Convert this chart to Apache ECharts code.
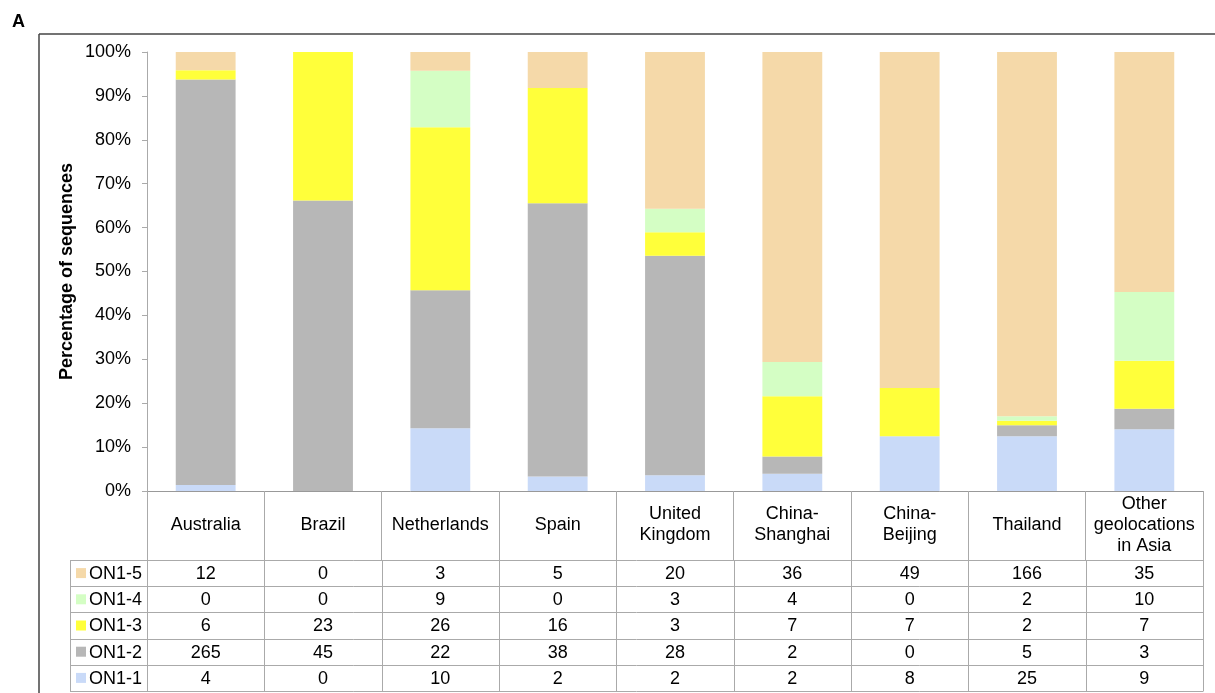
<!DOCTYPE html>
<html>
<head>
<meta charset="utf-8">
<script src="https://cdn.jsdelivr.net/npm/echarts@6/dist/echarts.min.js"></script>
<style>html,body{margin:0;padding:0;background:#fff}#c{width:1215px;height:693px}</style>
</head>
<body>
<div id="c"></div>
<script>
var categories = ['Australia', 'Brazil', 'Netherlands', 'Spain', 'United\nKingdom', 'China-\nShanghai', 'China-\nBeijing', 'Thailand', 'Other\ngeolocations\nin Asia'];
var on1_1 = [4, 0, 10, 2, 2, 2, 8, 25, 9];
var on1_2 = [265, 45, 22, 38, 28, 2, 0, 5, 3];
var on1_3 = [6, 23, 26, 16, 3, 7, 7, 2, 7];
var on1_4 = [0, 0, 9, 0, 3, 4, 0, 2, 10];
var on1_5 = [12, 0, 3, 5, 20, 36, 49, 166, 35];
var seriesNames = ['ON1-1', 'ON1-2', 'ON1-3', 'ON1-4', 'ON1-5'];
var seriesCounts = [on1_1, on1_2, on1_3, on1_4, on1_5];
var colors = ['#C9DAF8', '#B7B7B7', '#FFFF3A', '#D4FEC4', '#F5D9A9'];
var yTicks = [0, 10, 20, 30, 40, 50, 60, 70, 80, 90, 100];

var FONT = 'Liberation Sans, Arial, sans-serif';
var totals = categories.map(function (c, i) {
  var s = 0; seriesCounts.forEach(function (a) { s += a[i]; }); return s;
});
var series = seriesNames.map(function (n, k) {
  return {
    name: n, type: 'bar', stack: 'all', barWidth: '51%',
    itemStyle: { color: colors[k] },
    data: seriesCounts[k].map(function (v, i) { return v / totals[i] * 100; })
  };
});

var chart = echarts.init(document.getElementById('c'));
var gridLeft = 147, gridRight = 12, gridTop = 52, gridBottom = 202;
chart.setOption({
  animation: false,
  grid: { left: gridLeft, right: gridRight, top: gridTop, bottom: gridBottom },
  xAxis: {
    type: 'category', data: categories,
    axisLine: { show: true, lineStyle: { color: '#999', width: 1 } },
    axisTick: { show: true, length: 69, lineStyle: { color: '#aaa' } },
    axisLabel: { interval: 0, margin: 34, verticalAlign: 'middle', fontFamily: FONT, fontSize: 18, color: '#000', lineHeight: 21 }
  },
  yAxis: {
    type: 'value', min: 0, max: 100, interval: 10,
    axisLine: { show: true, lineStyle: { color: '#aaa' } },
    axisTick: { show: true, length: 5, lineStyle: { color: '#aaa' } },
    splitLine: { show: false },
    axisLabel: { formatter: function (v) { return yTicks.indexOf(v) >= 0 ? v + '%' : ''; }, fontFamily: FONT, fontSize: 18, color: '#000', margin: 16 },
    name: 'Percentage of sequences', nameLocation: 'middle', nameGap: 71, nameMoveOverlap: false,
    nameTextStyle: { fontFamily: FONT, fontSize: 18, fontWeight: 'bold', color: '#000' }
  },
  series: series
});

// table + frame
var g = [];
g.push({ type: 'text', left: 12, top: 13, style: { text: 'A', font: 'bold 18px ' + FONT, fill: '#000' } });
g.push({ type: 'line', shape: { x1: 39, y1: 34, x2: 1215, y2: 34 }, style: { stroke: '#444', lineWidth: 1.5 } });
g.push({ type: 'line', shape: { x1: 39, y1: 34, x2: 39, y2: 693 }, style: { stroke: '#444', lineWidth: 1.5 } });
var x0 = chart.convertToPixel({ xAxisIndex: 0 }, 0);
var x1 = chart.convertToPixel({ xAxisIndex: 0 }, 1);
var band = x1 - x0;
var left = x0 - band / 2;
var right = left + band * categories.length;
var headerBottom = 560, rowH = 26.2, labelLeft = 70;
var lineC = '#aaa';
var nRows = seriesNames.length;
for (var r = 0; r <= nRows; r++) {
  var y = Math.round(headerBottom + r * rowH) + 0.5;
  g.push({ type: 'line', shape: { x1: labelLeft, y1: y, x2: right, y2: y }, style: { stroke: lineC, lineWidth: 1 } });
}
var bottomY = Math.round(headerBottom + nRows * rowH) + 0.5;
g.push({ type: 'line', shape: { x1: labelLeft + 0.5, y1: headerBottom, x2: labelLeft + 0.5, y2: bottomY }, style: { stroke: lineC, lineWidth: 1 } });
for (var i = 0; i <= categories.length; i++) {
  var xx = Math.round(left + i * band) + 0.5;
  g.push({ type: 'line', shape: { x1: xx, y1: headerBottom, x2: xx, y2: bottomY }, style: { stroke: lineC, lineWidth: 1 } });
}
for (var r2 = 0; r2 < nRows; r2++) {
  var k = nRows - 1 - r2;
  var cy = headerBottom + (r2 + 0.5) * rowH;
  g.push({ type: 'rect', shape: { x: 76, y: cy - 5, width: 10, height: 10 }, style: { fill: colors[k] } });
  g.push({ type: 'text', x: 89, y: cy + 1, style: { text: seriesNames[k], font: '18px ' + FONT, fill: '#000', textVerticalAlign: 'middle', verticalAlign: 'middle' } });
  for (var c = 0; c < categories.length; c++) {
    g.push({ type: 'text', x: left + (c + 0.5) * band, y: cy + 1, style: { text: String(seriesCounts[k][c]), font: '18px ' + FONT, fill: '#000', align: 'center', textAlign: 'center', verticalAlign: 'middle', textVerticalAlign: 'middle' } });
  }
}
chart.setOption({ graphic: g });
</script>
</body>
</html>
